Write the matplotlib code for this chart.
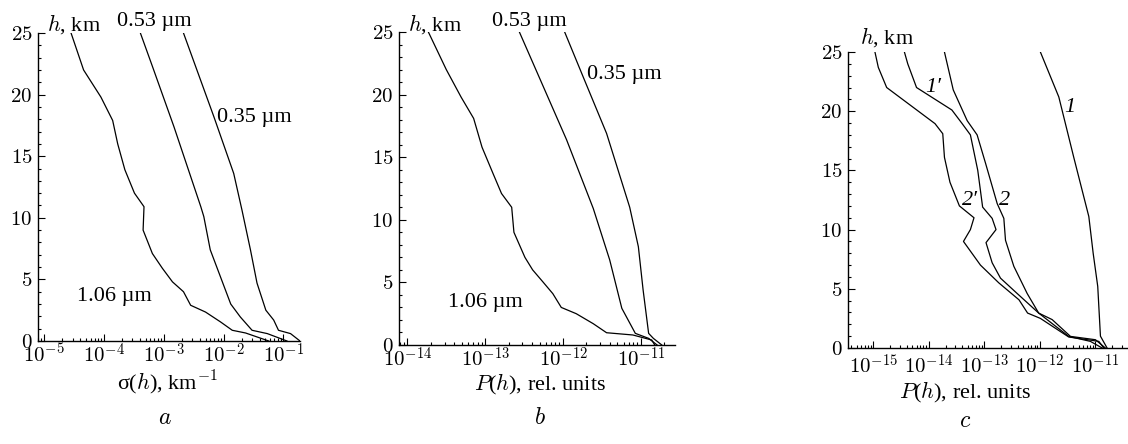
import matplotlib
matplotlib.use('Agg')
import matplotlib.pyplot as plt
from matplotlib.ticker import FixedLocator, FuncFormatter, MultipleLocator, NullFormatter
import numpy as np

plt.rcParams['font.family'] = ['Liberation Serif', 'DejaVu Serif']
plt.rcParams['mathtext.fontset'] = 'cm'

# ---- Panel a: sigma(h), km^-1 ----
h_a_106 = [25, 22, 19.8, 17.9, 16, 13.9, 12, 10.9, 9, 7.1, 5.9, 4.8, 4, 2.9, 2.35, 1.55, 0.87, 0.65, 0]
s_a_106 = [2.82e-5, 4.57e-5, 8.9e-5, 1.40e-4, 1.70e-4, 2.24e-4, 3.24e-4, 4.68e-4, 4.52e-4, 6.46e-4,
           9.5e-4, 1.40e-3, 2.14e-3, 2.82e-3, 5.0e-3, 8.9e-3, 1.40e-2, 2.34e-2, 5.7e-2]
h_a_053 = [25, 22.3, 17.4, 10.9, 10.1, 7.4, 5.2, 3.0, 1.95, 0.87, 0.6, 0]
s_a_053 = [4.07e-4, 6.46e-4, 1.48e-3, 4.17e-3, 4.68e-3, 6.0e-3, 8.9e-3, 1.32e-2, 1.91e-2, 3.0e-2, 5.4e-2, 0.115]
h_a_035 = [25, 18.2, 13.6, 10.6, 7.4, 4.7, 2.5, 1.7, 0.87, 0.6, 0]
s_a_035 = [2.14e-3, 6.9e-3, 1.48e-2, 2.04e-2, 2.82e-2, 3.63e-2, 5.1e-2, 6.9e-2, 8.3e-2, 0.132, 0.19]
ticks_a = [1e-5, 1e-4, 1e-3, 1e-2, 1e-1]

# ---- Panel b: P(h), rel. units ----
h_b_106 = [25, 22, 19.8, 18.1, 15.8, 13.7, 12.1, 11, 9, 7, 6, 5.05, 4.1, 3, 2.5, 1.7, 0.98, 0.8, 0.4, 0]
p_b_106 = [1.86e-14, 3.16e-14, 4.9e-14, 7.1e-14, 9.1e-14, 1.26e-13, 1.62e-13, 2.19e-13, 2.34e-13, 3.24e-13,
           4.07e-13, 5.5e-13, 7.4e-13, 9.5e-13, 1.48e-12, 2.45e-12, 3.63e-12, 7.9e-12, 1.38e-11, 1.51e-11]
h_b_053 = [25, 16.4, 10.9, 6.8, 2.93, 0.93, 0.53, 0]
p_b_053 = [2.75e-13, 1.11e-12, 2.45e-12, 3.98e-12, 5.7e-12, 8.5e-12, 1.26e-11, 1.62e-11]
h_b_035 = [25, 21.4, 16.9, 11, 7.85, 4.4, 0.93, 0.53, 0]
p_b_035 = [1.05e-12, 1.82e-12, 3.63e-12, 7.2e-12, 9.3e-12, 1.07e-11, 1.26e-11, 1.45e-11, 1.86e-11]
ticks_b = [1e-14, 1e-13, 1e-12, 1e-11]

# ---- Panel c: P(h), rel. units ----
h_c_1 = [25, 21.2, 16.1, 11.1, 8, 5.2, 1, 0]
p_c_1 = [1.02e-12, 2.19e-12, 4.07e-12, 7.6e-12, 9.1e-12, 1.10e-11, 1.23e-11, 1.62e-11]
h_c_2 = [25, 21.8, 19.2, 18, 15.6, 12.2, 10.95, 9.1, 6.9, 4.6, 2.95, 2.4, 0.98, 0.7, 0]
p_c_2 = [1.91e-14, 2.75e-14, 4.9e-14, 7.4e-14, 1.05e-13, 1.70e-13, 2.24e-13, 2.4e-13, 3.39e-13, 5.9e-13,
         9.5e-13, 1.66e-12, 3.55e-12, 1.0e-11, 1.51e-11]
h_c_1p = [25, 24, 22, 20.1, 18.95, 18, 15, 11.9, 10.95, 10, 8.9, 7.2, 5.9, 4.6, 2.95, 0.98, 0.56, 0]
p_c_1p = [3.63e-15, 4.17e-15, 6.0e-15, 2.6e-14, 3.98e-14, 5.6e-14, 7.6e-14, 9.3e-14, 1.38e-13, 1.62e-13,
          1.07e-13, 1.38e-13, 1.95e-13, 3.9e-13, 9.5e-13, 3.3e-12, 8.1e-12, 1.32e-11]
h_c_2p = [25, 23.7, 22, 18.95, 18.1, 16.1, 14, 12, 11, 10, 9, 7, 5.5, 4.07, 2.95, 2.5, 0.93, 0.56, 0]
p_c_2p = [1.07e-15, 1.23e-15, 1.74e-15, 1.29e-14, 1.78e-14, 1.91e-14, 2.4e-14, 3.55e-14, 6.5e-14, 5.6e-14,
          4.2e-14, 8.5e-14, 1.82e-13, 4.2e-13, 6.0e-13, 1.02e-12, 3.3e-12, 1.15e-11, 1.41e-11]
ticks_c = [1e-15, 1e-14, 1e-13, 1e-12, 1e-11]

W, H = 1128, 444
fig = plt.figure(figsize=(W / 100, H / 100), dpi=100)


def ax_px(left, top, right, bottom):
    return fig.add_axes([left / W, 1 - bottom / H, (right - left) / W, (bottom - top) / H])


def fx(x, y):
    return x / W, 1 - y / H


FS = 16
TFS = 15
log_fmt = FuncFormatter(lambda v, p: r'$10^{%d}$' % int(round(np.log10(v))))
y_fmt = FuncFormatter(lambda v, p: r'$%d$' % int(round(v)))


def style(ax, xlim, majors, xpad):
    ax.set_xscale('log')
    ax.set_xlim(*xlim)
    ax.set_ylim(0, 25)
    for s in ['top', 'right']:
        ax.spines[s].set_visible(False)
    for s in ['left', 'bottom']:
        ax.spines[s].set_linewidth(1.0)
    minors = [m * d for d in [majors[0] / 10] + list(majors) for m in range(2, 10)]
    minors = [v for v in minors if xlim[0] <= v <= xlim[1]]
    ax.xaxis.set_major_locator(FixedLocator(majors))
    ax.xaxis.set_minor_locator(FixedLocator(minors))
    ax.xaxis.set_major_formatter(log_fmt)
    ax.xaxis.set_minor_formatter(NullFormatter())
    ax.yaxis.set_major_locator(MultipleLocator(5))
    ax.yaxis.set_minor_locator(MultipleLocator(1))
    ax.yaxis.set_major_formatter(y_fmt)
    ax.tick_params(which='both', direction='in', labelsize=TFS, width=0.8)
    ax.tick_params(which='major', length=5)
    ax.tick_params(which='minor', length=2.5)
    ax.tick_params(axis='x', pad=xpad)
    ax.tick_params(axis='y', pad=4)
    ax.patch.set_alpha(0)


LW = 0.9
# Panel a
axa = ax_px(38, 33, 300, 341)
axa.plot(s_a_106, h_a_106, color='black', lw=LW)
axa.plot(s_a_053, h_a_053, color='black', lw=LW)
axa.plot(s_a_035, h_a_035, color='black', lw=LW)
style(axa, (7.9e-6, 0.19), ticks_a, 2)

# Panel b
axb = ax_px(399, 32, 675, 345)
axb.plot(p_b_106, h_b_106, color='black', lw=LW)
axb.plot(p_b_053, h_b_053, color='black', lw=LW)
axb.plot(p_b_035, h_b_035, color='black', lw=LW)
style(axb, (7.8e-15, 2.75e-11), ticks_b, 2)

# Panel c
axc = ax_px(848, 52, 1127, 348)
axc.plot(p_c_1, h_c_1, color='black', lw=LW)
axc.plot(p_c_2, h_c_2, color='black', lw=LW)
axc.plot(p_c_1p, h_c_1p, color='black', lw=LW)
axc.plot(p_c_2p, h_c_2p, color='black', lw=LW)
style(axc, (3.5e-16, 3.7e-11), ticks_c, 5)


def t(x, y, s, **kw):
    kw.setdefault('fontsize', FS)
    fig.text(*fx(x, y), s, **kw)


# panel a
t(47, 31, r'$h$, km', va='baseline')
t(117, 26, '0.53 µm', va='baseline')
t(217, 122, '0.35 µm', va='baseline')
t(77, 301, '1.06 µm', va='baseline')
t(167, 383, r'σ($h$), km$^{-1}$', ha='center', va='center')
t(165, 418, r'$a$', ha='center', va='center', fontsize=17)

# panel b
t(408, 31, r'$h$, km', va='baseline')
t(492, 26, '0.53 µm', va='baseline')
t(587, 79, '0.35 µm', va='baseline')
t(448, 307, '1.06 µm', va='baseline')
t(540, 384, r'$P$($h$), rel. units', ha='center', va='center')
t(540, 418, r'$b$', ha='center', va='center', fontsize=17)

# panel c
t(860, 44, r'$h$, km', va='baseline')
t(933, 87, "1′", ha='center', va='center', style='italic')
t(1070, 107, '1', ha='center', va='center', style='italic')
t(970, 200, "2′", ha='center', va='center', style='italic')
t(1005, 200, '2', ha='center', va='center', style='italic')
t(965, 392, r'$P$($h$), rel. units', ha='center', va='center')
t(965, 421, r'$c$', ha='center', va='center', fontsize=17)

fig.savefig('out.png', dpi=100)
